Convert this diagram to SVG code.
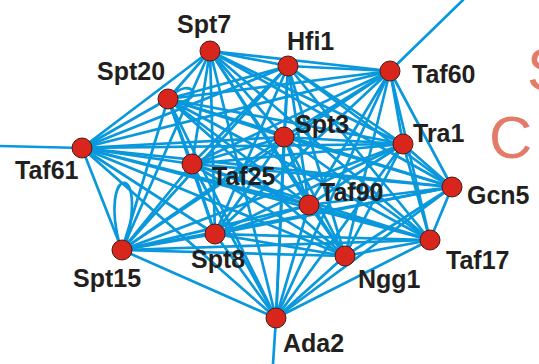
<svg xmlns="http://www.w3.org/2000/svg" width="539" height="364" viewBox="0 0 539 364">
<style>
.e line,.e path{stroke:#0a98dc;stroke-width:2.7;fill:none;stroke-linecap:round}
.n circle{fill:#d9261c;stroke:#4a1a12;stroke-width:1}
.n text{font-family:"Liberation Sans",Arial,sans-serif;font-weight:bold;font-size:25px;fill:#231f20}
.bg{font-family:"Liberation Sans",Arial,sans-serif;font-size:60px;fill:#e27c68}
</style>
<rect width="539" height="364" fill="#fff"/>
<text class="bg" x="527" y="90">S</text>
<text class="bg" x="489" y="158">C</text>
<g id="connectors" class="e">
<line x1="82" y1="148" x2="0" y2="146"/>
<line x1="390" y1="71" x2="463" y2="0"/>
<line x1="276" y1="318" x2="273" y2="364"/>
<path d="M120,246 C98,165 150,158 125,247"/>
<path d="M172,96 C190,76 208,100 174,103"/>
<line x1="210" y1="51" x2="288" y2="66"/>
<line x1="210" y1="51" x2="390" y2="71"/>
<line x1="210" y1="51" x2="168" y2="99"/>
<line x1="210" y1="51" x2="284" y2="137"/>
<line x1="210" y1="51" x2="403" y2="144"/>
<line x1="210" y1="51" x2="82" y2="148"/>
<line x1="210" y1="51" x2="192" y2="164"/>
<line x1="210" y1="51" x2="452" y2="187"/>
<line x1="210" y1="51" x2="309" y2="205"/>
<line x1="210" y1="51" x2="215" y2="234"/>
<line x1="210" y1="51" x2="122" y2="250"/>
<line x1="210" y1="51" x2="430" y2="240"/>
<line x1="210" y1="51" x2="345" y2="256"/>
<line x1="210" y1="51" x2="276" y2="318"/>
<line x1="288" y1="66" x2="390" y2="71"/>
<line x1="288" y1="66" x2="168" y2="99"/>
<line x1="288" y1="66" x2="284" y2="137"/>
<line x1="288" y1="66" x2="403" y2="144"/>
<line x1="288" y1="66" x2="82" y2="148"/>
<line x1="288" y1="66" x2="192" y2="164"/>
<line x1="288" y1="66" x2="452" y2="187"/>
<line x1="288" y1="66" x2="309" y2="205"/>
<line x1="288" y1="66" x2="215" y2="234"/>
<line x1="288" y1="66" x2="122" y2="250"/>
<line x1="288" y1="66" x2="430" y2="240"/>
<line x1="288" y1="66" x2="345" y2="256"/>
<line x1="288" y1="66" x2="276" y2="318"/>
<line x1="390" y1="71" x2="168" y2="99"/>
<line x1="390" y1="71" x2="284" y2="137"/>
<line x1="390" y1="71" x2="403" y2="144"/>
<line x1="390" y1="71" x2="82" y2="148"/>
<line x1="390" y1="71" x2="192" y2="164"/>
<line x1="390" y1="71" x2="452" y2="187"/>
<line x1="390" y1="71" x2="309" y2="205"/>
<line x1="390" y1="71" x2="215" y2="234"/>
<line x1="390" y1="71" x2="122" y2="250"/>
<line x1="390" y1="71" x2="430" y2="240"/>
<line x1="390" y1="71" x2="345" y2="256"/>
<line x1="390" y1="71" x2="276" y2="318"/>
<line x1="168" y1="99" x2="284" y2="137"/>
<line x1="168" y1="99" x2="403" y2="144"/>
<line x1="168" y1="99" x2="82" y2="148"/>
<line x1="168" y1="99" x2="192" y2="164"/>
<line x1="168" y1="99" x2="452" y2="187"/>
<line x1="168" y1="99" x2="309" y2="205"/>
<line x1="168" y1="99" x2="215" y2="234"/>
<line x1="168" y1="99" x2="122" y2="250"/>
<line x1="168" y1="99" x2="430" y2="240"/>
<line x1="168" y1="99" x2="345" y2="256"/>
<line x1="168" y1="99" x2="276" y2="318"/>
<line x1="284" y1="137" x2="403" y2="144"/>
<line x1="284" y1="137" x2="82" y2="148"/>
<line x1="284" y1="137" x2="192" y2="164"/>
<line x1="284" y1="137" x2="452" y2="187"/>
<line x1="284" y1="137" x2="309" y2="205"/>
<line x1="284" y1="137" x2="215" y2="234"/>
<line x1="284" y1="137" x2="122" y2="250"/>
<line x1="284" y1="137" x2="430" y2="240"/>
<line x1="284" y1="137" x2="345" y2="256"/>
<line x1="284" y1="137" x2="276" y2="318"/>
<line x1="403" y1="144" x2="82" y2="148"/>
<line x1="403" y1="144" x2="192" y2="164"/>
<line x1="403" y1="144" x2="452" y2="187"/>
<line x1="403" y1="144" x2="309" y2="205"/>
<line x1="403" y1="144" x2="215" y2="234"/>
<line x1="403" y1="144" x2="122" y2="250"/>
<line x1="403" y1="144" x2="430" y2="240"/>
<line x1="403" y1="144" x2="345" y2="256"/>
<line x1="403" y1="144" x2="276" y2="318"/>
<line x1="82" y1="148" x2="192" y2="164"/>
<line x1="82" y1="148" x2="452" y2="187"/>
<line x1="82" y1="148" x2="309" y2="205"/>
<line x1="82" y1="148" x2="215" y2="234"/>
<line x1="82" y1="148" x2="122" y2="250"/>
<line x1="82" y1="148" x2="430" y2="240"/>
<line x1="82" y1="148" x2="345" y2="256"/>
<line x1="82" y1="148" x2="276" y2="318"/>
<line x1="192" y1="164" x2="452" y2="187"/>
<line x1="192" y1="164" x2="309" y2="205"/>
<line x1="192" y1="164" x2="215" y2="234"/>
<line x1="192" y1="164" x2="122" y2="250"/>
<line x1="192" y1="164" x2="430" y2="240"/>
<line x1="192" y1="164" x2="345" y2="256"/>
<line x1="192" y1="164" x2="276" y2="318"/>
<line x1="452" y1="187" x2="309" y2="205"/>
<line x1="452" y1="187" x2="215" y2="234"/>
<line x1="452" y1="187" x2="122" y2="250"/>
<line x1="452" y1="187" x2="430" y2="240"/>
<line x1="452" y1="187" x2="345" y2="256"/>
<line x1="452" y1="187" x2="276" y2="318"/>
<line x1="309" y1="205" x2="215" y2="234"/>
<line x1="309" y1="205" x2="122" y2="250"/>
<line x1="309" y1="205" x2="430" y2="240"/>
<line x1="309" y1="205" x2="345" y2="256"/>
<line x1="309" y1="205" x2="276" y2="318"/>
<line x1="215" y1="234" x2="122" y2="250"/>
<line x1="215" y1="234" x2="430" y2="240"/>
<line x1="215" y1="234" x2="345" y2="256"/>
<line x1="215" y1="234" x2="276" y2="318"/>
<line x1="122" y1="250" x2="430" y2="240"/>
<line x1="122" y1="250" x2="345" y2="256"/>
<line x1="122" y1="250" x2="276" y2="318"/>
<line x1="430" y1="240" x2="345" y2="256"/>
<line x1="430" y1="240" x2="276" y2="318"/>
<line x1="345" y1="256" x2="276" y2="318"/>
</g>
<g class="n">
<g id="Spt7"><circle cx="210" cy="51" r="10"/><text x="177" y="33">Spt7</text></g>
<g id="Hfi1"><circle cx="288" cy="66" r="10"/><text x="287" y="50">Hfi1</text></g>
<g id="Taf60"><circle cx="390" cy="71" r="10"/><text x="412" y="83">Taf60</text></g>
<g id="Spt20"><circle cx="168" cy="99" r="10"/><text x="97" y="80">Spt20</text></g>
<g id="Spt3"><circle cx="284" cy="137" r="10"/><text x="295" y="133">Spt3</text></g>
<g id="Tra1"><circle cx="403" cy="144" r="10"/><text x="413" y="142">Tra1</text></g>
<g id="Taf61"><circle cx="82" cy="148" r="10"/><text x="15" y="179">Taf61</text></g>
<g id="Taf25"><circle cx="192" cy="164" r="10"/><text x="212" y="185">Taf25</text></g>
<g id="Gcn5"><circle cx="452" cy="187" r="10"/><text x="467" y="204">Gcn5</text></g>
<g id="Taf90"><circle cx="309" cy="205" r="10"/><text x="320" y="201">Taf90</text></g>
<g id="Spt8"><circle cx="215" cy="234" r="10"/><text x="191" y="268">Spt8</text></g>
<g id="Spt15"><circle cx="122" cy="250" r="10"/><text x="73" y="287">Spt15</text></g>
<g id="Taf17"><circle cx="430" cy="240" r="10"/><text x="446" y="269">Taf17</text></g>
<g id="Ngg1"><circle cx="345" cy="256" r="10"/><text x="358" y="288">Ngg1</text></g>
<g id="Ada2"><circle cx="276" cy="318" r="10"/><text x="283" y="352">Ada2</text></g>
</g>
</svg>
